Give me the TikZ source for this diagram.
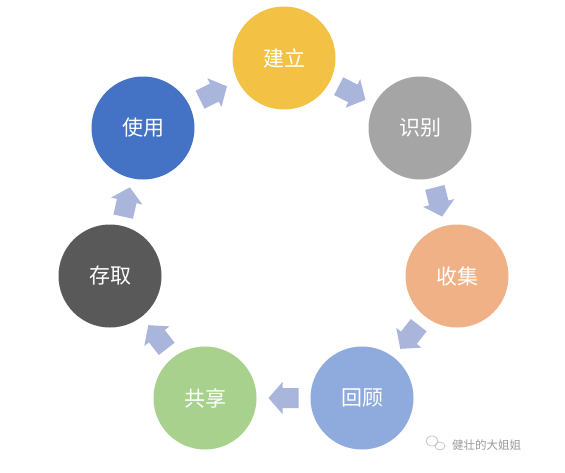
\documentclass[tikz,border=0pt]{standalone}
\usepackage{fontspec}
\newfontfamily\cjk{Noto Sans CJK SC}
\usetikzlibrary{calc}
\definecolor{cyellow}{HTML}{F3C244}
\definecolor{cgray}{HTML}{A5A5A5}
\definecolor{corange}{HTML}{F0B186}
\definecolor{clav}{HTML}{8FAADC}
\definecolor{cgreen}{HTML}{A9D18E}
\definecolor{cdark}{HTML}{595959}
\definecolor{cblue}{HTML}{4472C4}
\definecolor{carrow}{HTML}{AAB5DC}
\definecolor{cmark}{HTML}{9A9A9A}
\tikzset{
  stage/.style={circle, fill=#1, draw=none, minimum size=103pt, inner sep=0pt,
    text=white, font=\cjk\fontsize{21}{25}\selectfont},
  wmtext/.style={text=cmark, font=\cjk\fontsize{11.5}{13}\selectfont, inner sep=0pt},
  barrow/.pic={\fill[carrow] (15,0) -- (1,16) -- (1,10) -- (-15,10) -- (-15,-10)
    -- (1,-10) -- (1,-16) -- cycle;}
}
\newcommand{\flowarrow}[2]{%
  \path let \p1=(#1.center), \p2=(#2.center), \n1={atan2(\y2-\y1,\x2-\x1)} in
    ($(#1.center)!0.5!(#2.center)$) pic[rotate=\n1] {barrow};}
\begin{document}
\begin{tikzpicture}[x=1pt,y=-1pt]
\useasboundingbox (0,0) rectangle (565,472);
\fill[white] (0,0) rectangle (565,472);
\node[stage=cyellow] (jl) at (284,58) {建立};
\node[stage=cgray]   (sb) at (420,128) {识别};
\node[stage=corange] (sj) at (457,276) {收集};
\node[stage=clav]    (hg) at (362,398) {回顾};
\node[stage=cgreen]  (gx) at (205,398) {共享};
\node[stage=cdark]   (cq) at (110,276) {存取};
\node[stage=cblue]   (sy) at (143,128) {使用};
\flowarrow{sy}{jl}
\flowarrow{jl}{sb}
\flowarrow{sb}{sj}
\flowarrow{sj}{hg}
\flowarrow{hg}{gx}
\flowarrow{gx}{cq}
\flowarrow{cq}{sy}
\node[wmtext, anchor=west] (wm) at (452,445) {健壮的大姐姐};
\draw[cmark!60, line width=0.7pt] (432,441) ellipse (6pt and 5pt);
\draw[cmark!60, line width=0.7pt] (440,446) ellipse (5pt and 4pt);
\end{tikzpicture}
\end{document}
